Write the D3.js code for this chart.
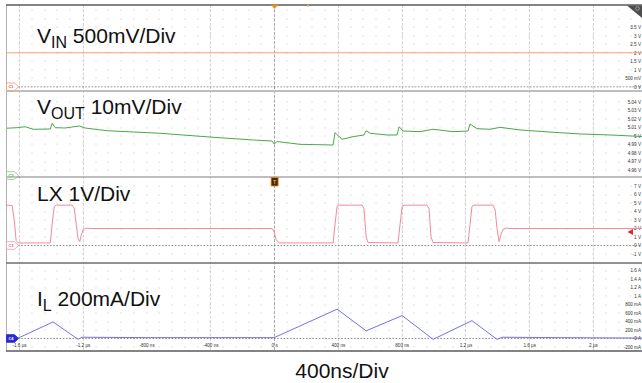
<!DOCTYPE html>
<html>
<head>
<meta charset="utf-8">
<script src="https://cdn.jsdelivr.net/npm/d3@7"></script>
<style>
  html, body { margin: 0; padding: 0; background: #fff; }
  svg { display: block; font-family: "Liberation Sans", Arial, sans-serif; }
</style>
</head>
<body>
<svg id="scope" width="642" height="383"></svg>
<script>
// ---- time base (µs) ----
const timeTicks = [-1.6, -1.2, -0.8, -0.4, 0, 0.4, 0.8, 1.2, 1.6, 2.0];
const timeTickLabels = ["-1.6 µs", "-1.2 µs", "-800 ns", "-400 ns", "0 s", "400 ns", "800 ns", "1.2 µs", "1.6 µs", "2 µs"];

// ---- CH1: input voltage (V) ----
const vinTime  = [-1.68, 2.307];
const vinVolts = [2.0, 2.0];
const vinTicks = [0, 0.5, 1, 1.5, 2, 2.5, 3, 3.5];
const vinTickLabels = ["0 V", "500 mV", "1 V", "1.5 V", "2 V", "2.5 V", "3 V", "3.5 V"];

// ---- CH2: output voltage (V) ----
const voutTime  = [-1.680, -1.611, -1.561, -1.511, -1.404, -1.392, -1.373, -1.310, -1.223, -1.185,
                   -1.047, -0.715, -0.382, -0.132, -0.013, 0.000, 0.019, 0.163, 0.370, 0.382,
                   0.426, 0.495, 0.564, 0.577, 0.602, 0.708, 0.771, 0.784, 0.809, 0.915,
                   0.997, 1.122, 1.216, 1.229, 1.273, 1.354, 1.417, 1.542, 1.749, 1.918,
                   2.107, 2.307];
const voutVolts = [5.0091, 5.0098, 5.0109, 5.0079, 5.0082, 5.0149, 5.0098, 5.0094, 5.0118, 5.0094,
                   5.0062, 5.0032, 4.9985, 4.9953, 4.9941, 4.9906, 4.9935, 4.9902, 4.9894, 5.0039,
                   4.9961, 4.9992, 5.0012, 5.0062, 5.0032, 5.0012, 5.0012, 5.0109, 5.0059, 5.0051,
                   5.0079, 5.0051, 5.0059, 5.0141, 5.0086, 5.0079, 5.0102, 5.0071, 5.0044, 5.0024,
                   5.0012, 4.9994];
const voutTicks = [4.96, 4.97, 4.98, 4.99, 5.00, 5.01, 5.02, 5.03, 5.04];
const voutTickLabels = ["4.96 V", "4.97 V", "4.98 V", "4.99 V", "5 V", "5.01 V", "5.02 V", "5.03 V", "5.04 V"];

// ---- CH3: switch node LX (V) ----
const lxTime  = [-1.680, -1.643, -1.630, -1.618, -1.605, -1.404, -1.392, -1.379, -1.367, -1.266,
                 -1.254, -1.241, -1.229, -1.219, -1.210, -1.197, -1.179, -1.154, -0.013, 0.000,
                 0.013, 0.031, 0.370, 0.382, 0.395, 0.408, 0.552, 0.564, 0.577, 0.589,
                 0.777, 0.790, 0.803, 0.815, 0.959, 0.972, 0.984, 0.997, 1.216, 1.229,
                 1.241, 1.254, 1.373, 1.386, 1.398, 1.411, 1.423, 1.436, 1.455, 1.480,
                 2.307];
const lxVolts = [4.75, 4.70, 3.00, 0.60, 0.30, 0.30, 2.50, 4.60, 4.75, 4.75,
                 4.40, 2.50, 0.80, 0.45, 1.20, 1.90, 2.05, 2.00, 2.00, 1.60,
                 0.70, 0.30, 0.30, 2.50, 4.60, 4.75, 4.75, 4.30, 1.00, 0.35,
                 0.30, 2.50, 4.60, 4.75, 4.75, 4.30, 1.00, 0.35, 0.30, 2.50,
                 4.60, 4.75, 4.75, 4.20, 2.00, 0.45, 1.30, 1.90, 2.05, 2.00,
                 2.00];
const lxTicks = [-1, 0, 1, 2, 3, 4, 5, 6, 7];
const lxTickLabels = ["-1 V", "0 V", "1 V", "2 V", "3 V", "4 V", "5 V", "6 V", "7 V"];

// ---- CH4: inductor current (A) ----
const ilTime = [-1.680, -1.611, -1.386, -1.229, -1.204, -0.777, 0.000, 0.395, 0.577, 0.803,
                0.997, 1.241, 1.398, 1.429, 1.793, 2.307];
const ilAmps = [0.00, 0.00, 0.39, -0.02, 0.03, 0.02, 0.02, 0.69, 0.18, 0.54,
                -0.02, 0.42, -0.02, 0.03, 0.02, 0.01];
const ilTicks = [-0.2, 0, 0.2, 0.4, 0.6, 0.8, 1.0, 1.2, 1.4, 1.6];
const ilTickLabels = ["-200 mA", "0 A", "200 mA", "400 mA", "600 mA", "800 mA", "1 A", "1.2 A", "1.4 A", "1.6 A"];

// ---- layout ----
const screen = { left: 6, right: 642, top: 5, bottom: 351 };
const svg = d3.select("#scope");

const x = d3.scaleLinear().domain([-1.6, 2.0]).range([19, 593]);

const panels = [
  { id: "vin",  top: 5,   bottom: 91,  domain: [0, 3.5],     range: [86.8, 27.3], step: 0.5,
    ticks: vinTicks,  labels: vinTickLabels,  t: vinTime,  v: vinVolts,  color: "#f5a07c", zero: true },
  { id: "vout", top: 91,  bottom: 177, domain: [4.96, 5.04], range: [170, 102],   step: 0.01,
    ticks: voutTicks, labels: voutTickLabels, t: voutTime, v: voutVolts, color: "#4aa84a", zero: false },
  { id: "lx",   top: 177, bottom: 263, domain: [-1, 7],      range: [254, 186],   step: 1,
    ticks: lxTicks,   labels: lxTickLabels,   t: lxTime,   v: lxVolts,   color: "#f38a9a", zero: true },
  { id: "il",   top: 263, bottom: 351, domain: [-0.2, 1.6],  range: [347, 270.5], step: 0.2,
    ticks: ilTicks,   labels: ilTickLabels,   t: ilTime,   v: ilAmps,    color: "#7272ea", zero: true }
];
panels.forEach(p => { p.y = d3.scaleLinear().domain(p.domain).range(p.range); });

// ---- clip paths per panel ----
const defs = svg.append("defs");
panels.forEach(p => {
  defs.append("clipPath").attr("id", "clip-" + p.id)
    .append("rect")
    .attr("x", screen.left).attr("y", p.top)
    .attr("width", screen.right - screen.left).attr("height", p.bottom - p.top);
});

// ---- dot grid ----
const gridG = svg.append("g");
const minorCols = d3.range(-2, 60).map(k => -1.6 + k * 0.08)
  .filter(t => x(t) > screen.left + 1 && x(t) < screen.right - 1);
panels.forEach(p => {
  const rows = d3.range(-12, 24).map(k => p.domain[0] + k * p.step)
    .filter(v => p.y(v) > p.top + 3 && p.y(v) < p.bottom - 3);
  rows.forEach(v => {
    gridG.selectAll(null).data(minorCols).enter().append("rect")
      .attr("x", t => Math.round(x(t)) - 0.5)
      .attr("y", Math.round(p.y(v)) - 0.5)
      .attr("width", 1).attr("height", 1)
      .attr("fill", "#c4c4c4");
  });
});

// major time divisions
gridG.selectAll(null).data(timeTicks.filter(t => t !== -0.8 && t !== 0)).enter().append("line")
  .attr("x1", t => Math.round(x(t)) + 0.5).attr("x2", t => Math.round(x(t)) + 0.5)
  .attr("y1", screen.top).attr("y2", screen.bottom)
  .attr("stroke", "#d4d4d4").attr("stroke-width", 1).attr("stroke-dasharray", "3,1.5");
// trigger position
gridG.append("line")
  .attr("x1", Math.round(x(0)) + 0.5).attr("x2", Math.round(x(0)) + 0.5)
  .attr("y1", screen.top).attr("y2", screen.bottom)
  .attr("stroke", "#a8a8a8").attr("stroke-width", 1).attr("stroke-dasharray", "3,1.5");

// ground reference lines
panels.filter(p => p.zero).forEach(p => {
  svg.append("line")
    .attr("x1", 18).attr("x2", screen.right)
    .attr("y1", p.y(0)).attr("y2", p.y(0))
    .attr("stroke", "#7a7a7a").attr("stroke-width", 0.8).attr("stroke-dasharray", "1.6,1.6");
});

// ---- right-hand value scales ----
panels.forEach(p => {
  const axis = d3.axisLeft(p.y)
    .tickValues(p.ticks)
    .tickFormat((d, i) => p.labels[i])
    .tickSize(0).tickPadding(0);
  const ag = svg.append("g").attr("transform", `translate(${screen.right - 1},0)`).call(axis);
  ag.select(".domain").remove();
  ag.selectAll("text").attr("font-size", 4.6).attr("fill", "#333")
    .attr("font-family", "'Liberation Sans', Arial, sans-serif");
});

// ---- time labels ----
const timeAxis = d3.axisBottom(x)
  .tickValues(timeTicks)
  .tickFormat((d, i) => timeTickLabels[i])
  .tickSize(0).tickPadding(0);
const tg = svg.append("g").attr("transform", "translate(0,343.8)").call(timeAxis);
tg.select(".domain").remove();
tg.selectAll("text").attr("font-size", 4.6).attr("fill", "#333")
  .attr("font-family", "'Liberation Sans', Arial, sans-serif");

// ---- traces ----
panels.forEach(p => {
  const pts = p.t.map((t, i) => ({ t: t, v: p.v[i] }));
  const line = d3.line().x(d => x(d.t)).y(d => p.y(d.v));
  svg.append("path")
    .attr("clip-path", `url(#clip-${p.id})`)
    .attr("d", line(pts))
    .attr("fill", "none")
    .attr("stroke", p.color)
    .attr("stroke-width", 1)
    .attr("stroke-linejoin", "round");
});

// ---- panel frames ----
const frame = svg.append("g");
frame.append("line").attr("x1", screen.left + 0.5).attr("x2", screen.left + 0.5)
  .attr("y1", screen.top).attr("y2", screen.bottom).attr("stroke", "#b0b0b0").attr("stroke-width", 1);
const seps = [
  { y: 5,   color: "#5a5a5a", w: 1.6 },
  { y: 91,  color: "#bdbdbd", w: 2 },
  { y: 177, color: "#a9a9a9", w: 1.4 },
  { y: 263, color: "#6e6e6e", w: 1.6 },
  { y: 351, color: "#5a5a5a", w: 1.6 }
];
frame.selectAll(null).data(seps).enter().append("line")
  .attr("x1", screen.left).attr("x2", screen.right)
  .attr("y1", d => d.y).attr("y2", d => d.y)
  .attr("stroke", d => d.color).attr("stroke-width", d => d.w);

// ---- channel tags ----
function channelTag(y, stroke, fill, label, textColor) {
  const g = svg.append("g");
  g.append("path")
    .attr("d", `M6.5,${y - 3.8} H14.5 L18.5,${y} L14.5,${y + 3.8} H6.5 Z`)
    .attr("fill", fill).attr("stroke", stroke).attr("stroke-width", 0.9)
    .attr("stroke-linejoin", "round");
  g.append("text").attr("x", 11).attr("y", y).attr("dy", "0.35em")
    .attr("text-anchor", "middle").attr("font-size", 4).attr("font-weight", "bold")
    .attr("fill", textColor).text(label);
}
channelTag(panels[0].y(0), "#f2a07a", "#fff", "C1", "#c06a40");
channelTag(175.5, "#8fcf8f", "#fff", "C2", "#5aa05a");
channelTag(panels[2].y(0), "#f3a0ac", "#fff", "C3", "#d07080");
channelTag(panels[3].y(0), "#2a2ad0", "#2a2ad0", "C4", "#fff");

// redraw the C2 boundary over its tag
svg.append("line").attr("x1", screen.left).attr("x2", 20).attr("y1", 177).attr("y2", 177)
  .attr("stroke", "#a9a9a9").attr("stroke-width", 1.4);

// ---- trigger markers ----
svg.append("path")
  .attr("d", `M${x(0) - 3.5},4.5 H${x(0) + 4.5} L${x(0) + 0.5},9 Z`)
  .attr("fill", "#f08a1c");
svg.append("rect").attr("x", 307).attr("y", 4.5).attr("width", 2).attr("height", 2).attr("fill", "#f0a050");
svg.append("rect")
  .attr("x", x(0) - 3).attr("y", 177.5).attr("width", 7).attr("height", 8.5)
  .attr("fill", "#4a2a05").attr("stroke", "#e08a20").attr("stroke-width", 0.8);
svg.append("text").attr("x", x(0) + 0.5).attr("y", 181.8).attr("dy", "0.35em")
  .attr("text-anchor", "middle").attr("font-size", 5).attr("font-weight", "bold")
  .attr("fill", "#f0a040").text("T");
// trigger level (LX)
const trigY = panels[2].y(1.6);
svg.append("path")
  .attr("d", `M627.5,${trigY} L633,${trigY - 3} L633,${trigY + 3} Z`)
  .attr("fill", "#e8203a");

// corner badge
svg.append("path").attr("d", "M627,5.5 H642 V18 Z").attr("fill", "#4e4e4e");
svg.append("circle").attr("cx", 637.5).attr("cy", 8.5).attr("r", 1.8)
  .attr("fill", "none").attr("stroke", "#bbb").attr("stroke-width", 0.7);

// ---- channel captions ----
function caption(xPos, yPos, main, sub, rest) {
  const t = svg.append("text").attr("x", xPos).attr("y", yPos)
    .attr("font-size", 21).attr("fill", "#111");
  t.append("tspan").text(main);
  if (sub) t.append("tspan").attr("font-size", 16).attr("dy", 5).text(sub);
  t.append("tspan").attr("dy", sub ? -5 : 0).text(rest);
}
caption(37, 43, "V", "IN", " 500mV/Div");
caption(37, 113.5, "V", "OUT", " 10mV/Div");
caption(37, 200.5, "LX 1V/Div", null, "");
caption(37, 306, "I", "L", " 200mA/Div");

svg.append("text").attr("x", 342).attr("y", 378)
  .attr("text-anchor", "middle").attr("font-size", 21).attr("fill", "#111")
  .text("400ns/Div");
</script>
</body>
</html>
